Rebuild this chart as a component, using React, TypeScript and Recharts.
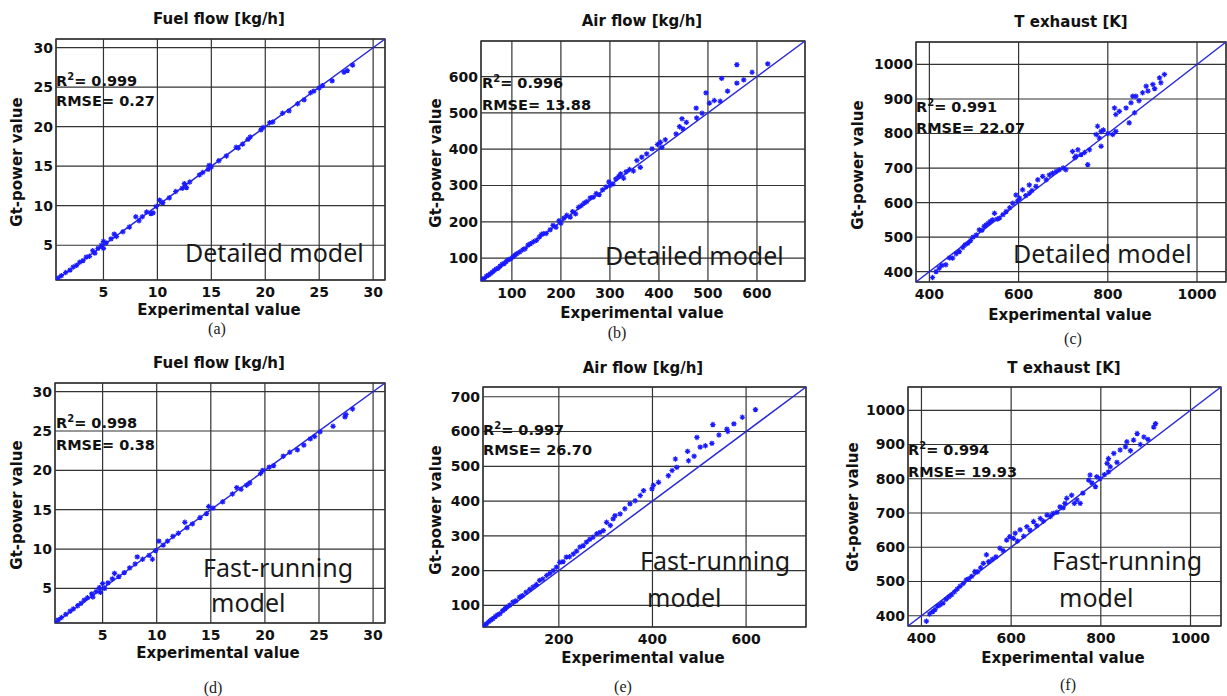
import React from "react";
import {
  ScatterChart,
  Scatter,
  XAxis,
  YAxis,
  CartesianGrid,
  ReferenceLine,
  ReferenceArea,
} from "recharts";

const AXIS_FONT = "'DejaVu Sans', Arial, sans-serif";
const NOTE_FONT = "'Noto Sans', 'Open Sans', sans-serif";
const MARK_COLOR = "#1a1aff";
const LINE_COLOR = "#2a2ad8";
const GRID_COLOR = "#333";

const fuelDetailed: [number, number][] = [
  [0.8, 0.85], [1.1, 1.15], [1.5, 1.55], [1.9, 1.85], [2.2, 2.25], [2.5, 2.45],
  [2.8, 2.85], [3.1, 3.05], [3.4, 3.5], [3.7, 3.6], [4.0, 4.3], [4.2, 4.0],
  [4.5, 4.6], [4.8, 5.0], [5.0, 4.6], [5.0, 5.5], [5.25, 5.3], [5.7, 5.8],
  [6.0, 6.4], [6.2, 6.1], [6.8, 6.7], [7.4, 7.3], [8.0, 8.6], [8.3, 8.1],
  [8.6, 8.6], [9.0, 9.2], [9.4, 9.0], [9.6, 9.1], [9.9, 9.9], [10.2, 10.7],
  [10.5, 10.4], [11.1, 11.0], [11.7, 11.8], [12.3, 12.2], [12.5, 12.8], [12.7, 12.3],
  [13.0, 13.0], [13.9, 13.9], [14.2, 14.2], [14.7, 14.6], [14.8, 15.1], [15.0, 14.9],
  [15.7, 15.7], [16.4, 16.3], [17.3, 17.4], [17.5, 17.3], [17.9, 17.8], [18.4, 18.4],
  [18.6, 18.7], [19.6, 19.6], [19.8, 19.9], [20.4, 20.5], [20.7, 20.6], [21.6, 21.7],
  [22.2, 22.0], [23.0, 22.9], [23.6, 23.4], [24.2, 24.3], [24.5, 24.5], [25.0, 24.9],
  [25.3, 25.2], [26.2, 25.8], [27.3, 26.9], [27.6, 27.1], [28.1, 27.8],
];

const fuelFast: [number, number][] = [
  [0.6, 0.7], [0.9, 1.0], [1.2, 1.3], [1.6, 1.7], [2.0, 2.1], [2.3, 2.4],
  [2.7, 2.8], [3.0, 3.1], [3.3, 3.5], [3.6, 3.8], [4.0, 4.3], [4.1, 3.9],
  [4.4, 4.6], [4.7, 5.1], [4.8, 4.5], [5.0, 5.6], [5.2, 5.0], [5.5, 5.7],
  [5.9, 6.2], [6.1, 6.9], [6.5, 6.5], [7.0, 7.0], [7.5, 7.6], [8.0, 8.1],
  [8.2, 9.0], [8.7, 8.7], [9.3, 9.2], [9.6, 8.7], [9.9, 9.8], [10.2, 11.0],
  [10.6, 10.5], [11.0, 11.0], [11.5, 11.6], [12.0, 12.0], [12.6, 13.4], [12.8, 12.7],
  [13.3, 13.2], [14.0, 14.0], [14.6, 14.5], [14.8, 15.4], [15.2, 15.2], [16.1, 16.0],
  [17.0, 17.0], [17.4, 17.8], [17.8, 17.6], [18.3, 18.1], [18.6, 18.4], [19.6, 19.6],
  [19.8, 20.0], [20.4, 20.4], [20.8, 20.6], [21.7, 21.8], [22.3, 22.3], [23.0, 22.6],
  [23.6, 23.2], [24.2, 24.0], [24.6, 24.3], [25.1, 24.9], [26.3, 25.6], [27.4, 26.8],
  [27.5, 27.1], [28.1, 27.8],
];

const airDetailed: [number, number][] = [
  [40, 42], [44, 44], [48, 50], [52, 53], [56, 57], [60, 61], [64, 66], [68, 70],
  [72, 72], [76, 78], [80, 83], [84, 85], [88, 90], [92, 95], [97, 98], [102, 103],
  [106, 108], [110, 112], [116, 117], [122, 123], [127, 126], [133, 136], [138, 140],
  [144, 145], [150, 149], [156, 158], [160, 165], [164, 167], [170, 168], [178, 178],
  [184, 190], [190, 185], [196, 203], [200, 196], [206, 210], [212, 218], [219, 213],
  [224, 228], [230, 222], [236, 240], [242, 245], [248, 252], [253, 256], [260, 266],
  [266, 268], [272, 278], [278, 275], [285, 288], [292, 296], [298, 310], [300, 300],
  [306, 304], [312, 318], [318, 325], [322, 332], [328, 320], [333, 338], [340, 344],
  [348, 340], [355, 369], [362, 350], [365, 378], [375, 387], [386, 401], [397, 413],
  [403, 419], [406, 405], [413, 426], [435, 442], [442, 462], [447, 484], [449, 456],
  [456, 474], [476, 513], [477, 486], [488, 499], [496, 555], [503, 527], [513, 534],
  [525, 532], [528, 595], [540, 560], [559, 633], [559, 582], [573, 591], [590, 612],
  [622, 635],
];

const airFast: [number, number][] = [
  [40, 42], [45, 47], [50, 53], [55, 58], [59, 62], [64, 68], [69, 73], [74, 76],
  [80, 85], [85, 90], [88, 95], [95, 101], [102, 110], [108, 113], [116, 124],
  [122, 128], [130, 138], [138, 146], [145, 153], [152, 160], [159, 172], [166, 176],
  [174, 186], [181, 192], [188, 200], [195, 210], [202, 224], [209, 226], [216, 239],
  [223, 240], [231, 248], [238, 256], [245, 268], [252, 272], [259, 282], [266, 290],
  [273, 296], [281, 306], [288, 310], [295, 315], [302, 339], [310, 330], [316, 349],
  [320, 358], [331, 363], [341, 378], [352, 392], [363, 401], [374, 416], [381, 430],
  [399, 435], [402, 445], [413, 454], [434, 473], [442, 488], [452, 497], [449, 521],
  [475, 543], [477, 516], [489, 529], [495, 583], [502, 555], [513, 559], [527, 566],
  [529, 620], [542, 590], [559, 607], [561, 600], [574, 622], [592, 641], [620, 663],
];

const exhaustDetailed: [number, number][] = [
  [407, 383], [415, 400], [422, 410], [428, 418], [437, 420], [445, 440], [452, 439],
  [460, 452], [467, 458], [475, 470], [480, 478], [486, 482], [492, 490], [498, 500],
  [505, 506], [512, 521], [518, 520], [523, 531], [527, 535], [532, 540], [537, 546],
  [542, 550], [546, 569], [552, 552], [557, 555], [565, 565], [572, 574], [580, 585],
  [587, 598], [594, 622], [598, 605], [602, 613], [609, 637], [616, 620], [624, 627],
  [624, 651], [630, 635], [639, 647], [643, 666], [654, 676], [662, 666], [669, 680],
  [676, 685], [684, 690], [691, 695], [700, 700], [706, 695], [721, 748], [726, 730],
  [729, 734], [733, 753], [740, 739], [748, 745], [755, 710], [759, 753], [774, 797],
  [777, 821], [781, 787], [785, 806], [785, 763], [790, 810], [800, 800], [811, 797],
  [815, 874], [818, 806], [818, 855], [826, 864], [841, 874], [848, 831], [852, 889],
  [856, 908], [860, 860], [863, 908], [870, 895], [878, 918], [886, 937], [890, 923],
  [901, 942], [905, 930], [916, 961], [919, 947], [927, 971],
];

const exhaustFast: [number, number][] = [
  [411, 384], [418, 405], [425, 412], [430, 418], [436, 428], [442, 432], [448, 437],
  [455, 448], [461, 455], [467, 461], [474, 470], [480, 478], [486, 486], [493, 494],
  [500, 505], [506, 508], [512, 515], [519, 529], [525, 528], [532, 540], [538, 553],
  [545, 578], [550, 558], [558, 565], [566, 572], [575, 597], [582, 590], [590, 621],
  [597, 631], [605, 626], [609, 641], [614, 618], [620, 651], [628, 632], [635, 660],
  [642, 650], [650, 675], [657, 663], [665, 684], [672, 676], [680, 694], [688, 690],
  [694, 699], [702, 702], [709, 718], [716, 715], [720, 728], [724, 743], [735, 752],
  [741, 728], [747, 738], [754, 728], [760, 758], [773, 796], [776, 811], [780, 788],
  [788, 777], [791, 806], [798, 800], [808, 812], [814, 845], [817, 859], [821, 835],
  [817, 820], [829, 874], [836, 848], [843, 884], [855, 893], [858, 908], [866, 882],
  [873, 913], [881, 932], [888, 900], [896, 922], [905, 915], [918, 951], [922, 961],
];

const fuelTicks = [5, 10, 15, 20, 25, 30];
const airDetailedTicks = [100, 200, 300, 400, 500, 600];
const airFastXTicks = [200, 400, 600];
const airFastYTicks = [100, 200, 300, 400, 500, 600, 700];
const exhaustXTicks = [400, 600, 800, 1000];
const exhaustYTicks = [400, 500, 600, 700, 800, 900, 1000];

interface Note {
  text: string;
  x: number;
  y: number;
}

interface Panel {
  id: string;
  points: [number, number][];
  domain: [number, number];
  xTicks: number[];
  yTicks: number[];
  box: { left: number; top: number; right: number; bottom: number };
  title: string;
  titlePos: [number, number];
  xLabelPos: [number, number];
  yLabelPos: [number, number];
  caption: string;
  captionPos: [number, number];
  r2: string;
  rmse: string;
  statsPos: [number, number, number];
  notes: Note[];
}

const panels: Panel[] = [
  {
    id: "a",
    points: fuelDetailed,
    domain: [0.6, 31.1],
    xTicks: fuelTicks,
    yTicks: fuelTicks,
    box: { left: 56, top: 39, right: 385, bottom: 280 },
    title: "Fuel flow [kg/h]",
    titlePos: [219, 24],
    xLabelPos: [219, 315],
    yLabelPos: [22, 162],
    caption: "(a)",
    captionPos: [217, 334],
    r2: "0.999",
    rmse: "0.27",
    statsPos: [56, 86, 106],
    notes: [{ text: "Detailed model", x: 185, y: 262 }],
  },
  {
    id: "b",
    points: airDetailed,
    domain: [37, 698],
    xTicks: airDetailedTicks,
    yTicks: airDetailedTicks,
    box: { left: 481, top: 41, right: 805, bottom: 281 },
    title: "Air flow [kg/h]",
    titlePos: [642, 26],
    xLabelPos: [642, 318],
    yLabelPos: [441, 163],
    caption: "(b)",
    captionPos: [617, 338],
    r2: "0.996",
    rmse: "13.88",
    statsPos: [482, 88, 110],
    notes: [{ text: "Detailed model", x: 605, y: 265 }],
  },
  {
    id: "c",
    points: exhaustDetailed,
    domain: [370, 1065],
    xTicks: exhaustXTicks,
    yTicks: exhaustYTicks,
    box: { left: 916, top: 42, right: 1226, bottom: 282 },
    title: "T exhaust [K]",
    titlePos: [1071, 27],
    xLabelPos: [1070, 320],
    yLabelPos: [863, 165],
    caption: "(c)",
    captionPos: [1073, 344],
    r2: "0.991",
    rmse: "22.07",
    statsPos: [916, 112, 133],
    notes: [{ text: "Detailed model", x: 1013, y: 263 }],
  },
  {
    id: "d",
    points: fuelFast,
    domain: [0.6, 31.1],
    xTicks: fuelTicks,
    yTicks: fuelTicks,
    box: { left: 55, top: 383, right: 385, bottom: 623 },
    title: "Fuel flow [kg/h]",
    titlePos: [219, 368],
    xLabelPos: [218, 658],
    yLabelPos: [22, 505],
    caption: "(d)",
    captionPos: [213, 693],
    r2: "0.998",
    rmse: "0.38",
    statsPos: [56, 428, 450],
    notes: [
      { text: "Fast-running", x: 203, y: 577 },
      { text: "model", x: 211, y: 612 },
    ],
  },
  {
    id: "e",
    points: airFast,
    domain: [38, 728],
    xTicks: airFastXTicks,
    yTicks: airFastYTicks,
    box: { left: 483, top: 387, right: 806, bottom: 627 },
    title: "Air flow [kg/h]",
    titlePos: [643, 373],
    xLabelPos: [643, 663],
    yLabelPos: [441, 510],
    caption: "(e)",
    captionPos: [623, 692],
    r2: "0.997",
    rmse: "26.70",
    statsPos: [483, 435, 455],
    notes: [
      { text: "Fast-running", x: 640, y: 570 },
      { text: "model", x: 647, y: 607 },
    ],
  },
  {
    id: "f",
    points: exhaustFast,
    domain: [370, 1068],
    xTicks: exhaustXTicks,
    yTicks: exhaustYTicks,
    box: { left: 908, top: 387, right: 1221, bottom: 626 },
    title: "T exhaust [K]",
    titlePos: [1064, 373],
    xLabelPos: [1063, 663],
    yLabelPos: [858, 507],
    caption: "(f)",
    captionPos: [1068, 690],
    r2: "0.994",
    rmse: "19.93",
    statsPos: [908, 455, 477],
    notes: [
      { text: "Fast-running", x: 1052, y: 570 },
      { text: "model", x: 1059, y: 607 },
    ],
  },
];

const Y_AXIS_W = 45;
const X_AXIS_H = 30;
const PAD = 5;

// MATLAB-ish '*' marker
function StarMark(props: any) {
  const { cx, cy } = props;
  if (cx == null || cy == null) return null;
  const r = 2.7;
  const d = 1.9;
  return (
    <path
      d={`M${cx - r},${cy}H${cx + r}M${cx},${cy - r}V${cy + r}M${cx - d},${cy - d}L${cx + d},${cy + d}M${cx - d},${cy + d}L${cx + d},${cy - d}`}
      stroke={MARK_COLOR}
      strokeWidth={1.2}
      fill="none"
    />
  );
}

const tickStyle = {
  fontFamily: AXIS_FONT,
  fontWeight: 700,
  fontSize: 14,
  fill: "#111",
};

function ParityPanel({ panel }: { panel: Panel }) {
  const { box, domain } = panel;
  const w = box.right - box.left + Y_AXIS_W + PAD;
  const h = box.bottom - box.top + PAD + X_AXIS_H;
  const data = panel.points.map(([x, y]) => ({ x, y }));
  const [lo, hi] = domain;

  return (
    <div
      style={{
        position: "absolute",
        left: box.left - Y_AXIS_W,
        top: box.top - PAD,
        width: w,
        height: h,
      }}
    >
      <ScatterChart
        width={w}
        height={h}
        margin={{ top: PAD, right: PAD, bottom: 0, left: 0 }}
      >
        <CartesianGrid stroke={GRID_COLOR} strokeWidth={1.2} />
        <XAxis
          type="number"
          dataKey="x"
          domain={domain}
          ticks={panel.xTicks}
          allowDataOverflow
          interval={0}
          height={X_AXIS_H}
          axisLine={false}
          tickLine={false}
          tickSize={0}
          tickMargin={7}
          tick={tickStyle}
        />
        <YAxis
          type="number"
          dataKey="y"
          domain={domain}
          ticks={panel.yTicks}
          allowDataOverflow
          interval={0}
          width={Y_AXIS_W}
          axisLine={false}
          tickLine={false}
          tickSize={0}
          tickMargin={3}
          tick={tickStyle}
        />
        <ReferenceArea
          x1={lo}
          x2={hi}
          y1={lo}
          y2={hi}
          fill="none"
          fillOpacity={0}
          stroke={GRID_COLOR}
          strokeWidth={1.3}
        />
        <ReferenceLine
          segment={[
            { x: lo, y: lo },
            { x: hi, y: hi },
          ]}
          stroke={LINE_COLOR}
          strokeWidth={1.5}
        />
        <Scatter data={data} shape={StarMark} isAnimationActive={false} />
      </ScatterChart>
    </div>
  );
}

function PanelText({ panel }: { panel: Panel }) {
  const [sx, r2y, rmsey] = panel.statsPos;
  const bold = { fontFamily: AXIS_FONT, fontWeight: 700, fill: "#111" };
  return (
    <g>
      <text {...bold} fontSize={15} x={panel.titlePos[0]} y={panel.titlePos[1]} textAnchor="middle">
        {panel.title}
      </text>
      <text {...bold} fontSize={15} x={panel.xLabelPos[0]} y={panel.xLabelPos[1]} textAnchor="middle">
        Experimental value
      </text>
      <text
        {...bold}
        fontSize={15}
        x={panel.yLabelPos[0]}
        y={panel.yLabelPos[1]}
        textAnchor="middle"
        transform={`rotate(-90 ${panel.yLabelPos[0]} ${panel.yLabelPos[1]})`}
      >
        Gt-power value
      </text>
      <text
        x={panel.captionPos[0]}
        y={panel.captionPos[1]}
        textAnchor="middle"
        fontFamily="'Liberation Serif', 'DejaVu Serif', serif"
        fontSize={16}
        fill="#222"
      >
        {panel.caption}
      </text>
      <text {...bold} fontSize={14.5} x={sx} y={r2y}>
        R<tspan fontSize={10} dy={-6}>2</tspan>
        <tspan dy={6}>= {panel.r2}</tspan>
      </text>
      <text {...bold} fontSize={14.5} x={sx} y={rmsey}>
        RMSE= {panel.rmse}
      </text>
      {panel.notes.map((n) => (
        <text key={n.text} x={n.x} y={n.y} fontFamily={NOTE_FONT} fontSize={25} fill="#1a1a1a">
          {n.text}
        </text>
      ))}
    </g>
  );
}

export default function App() {
  return (
    <div
      style={{
        position: "absolute",
        left: 0,
        top: 0,
        width: 1227,
        height: 696,
        background: "#fff",
        overflow: "hidden",
      }}
    >
      {panels.map((p) => (
        <ParityPanel key={p.id} panel={p} />
      ))}
      <svg
        width={1227}
        height={696}
        style={{ position: "absolute", left: 0, top: 0, pointerEvents: "none" }}
      >
        {panels.map((p) => (
          <PanelText key={p.id} panel={p} />
        ))}
      </svg>
    </div>
  );
}
